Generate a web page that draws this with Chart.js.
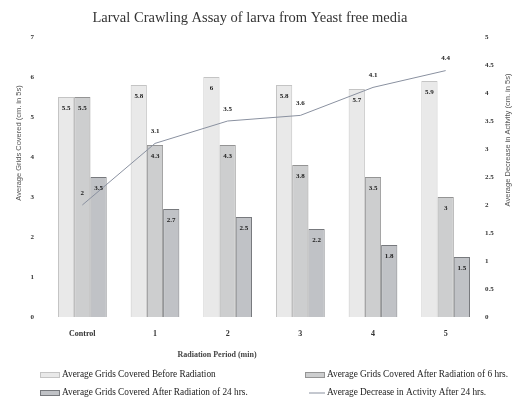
<!DOCTYPE html>
<html>
<head>
<meta charset="utf-8">
<script src="https://cdn.jsdelivr.net/npm/chart.js@4"></script>
<style>
  html, body { margin: 0; padding: 0; background: #fff; }
  #wrap { width: 521px; height: 401px; }
</style>
</head>
<body>
<div id="wrap"><canvas id="chart"></canvas></div>
<script>
const periods = ["Control", "1", "2", "3", "4", "5"];
const beforeRadiation = [5.5, 5.8, 6, 5.8, 5.7, 5.9];
const after6hrs = [5.5, 4.3, 4.3, 3.8, 3.5, 3];
const after24hrs = [3.5, 2.7, 2.5, 2.2, 1.8, 1.5];
const decreaseActivity = [2, 3.1, 3.5, 3.6, 4.1, 4.4];

const serif = '"Liberation Serif", "Times New Roman", serif';
const sans = '"Liberation Sans", Arial, sans-serif';

// value labels on bars and line
const valueLabels = {
  id: "valueLabels",
  afterDatasetsDraw(chart) {
    const ctx = chart.ctx;
    ctx.save();
    ctx.font = "bold 7px " + serif;
    ctx.fillStyle = "#1a1a1a";
    ctx.textAlign = "center";
    ctx.textBaseline = "middle";
    chart.data.datasets.forEach((ds, i) => {
      chart.getDatasetMeta(i).data.forEach((el, j) => {
        const y = ds.type === "line" ? el.y - 12 : el.y + 11;
        ctx.fillText(String(ds.data[j]), el.x, y);
      });
    });
    ctx.restore();
  }
};

// title, axis titles and legend drawn by hand to sit where the reference puts them
const extras = {
  id: "extras",
  afterDraw(chart) {
    const ctx = chart.ctx;
    ctx.save();
    ctx.textAlign = "center";
    ctx.textBaseline = "middle";

    ctx.fillStyle = "#333";
    ctx.font = "14.5px " + serif;
    ctx.fillText("Larval Crawling Assay of larva from Yeast free media", 250, 18);

    ctx.fillStyle = "#444";
    ctx.font = "bold 8px " + serif;
    ctx.fillText("Radiation Period (min)", 217, 355);

    ctx.fillStyle = "#555";
    ctx.font = "7.5px " + sans;
    ctx.save();
    ctx.translate(19, 143);
    ctx.rotate(-Math.PI / 2);
    ctx.fillText("Average Grids Covered (cm. in 5s)", 0, 0);
    ctx.restore();
    ctx.save();
    ctx.translate(508, 140);
    ctx.rotate(-Math.PI / 2);
    ctx.fillText("Average Decrease in Activity (cm. in 5s)", 0, 0);
    ctx.restore();

    // legend
    const cols = [40, 305];
    const rows = [375, 393];
    ctx.font = "9.3px " + serif;
    ctx.textAlign = "left";
    chart.data.datasets.forEach((ds, i) => {
      const x = cols[i % 2];
      const y = rows[Math.floor(i / 2)];
      if (ds.type === "line") {
        ctx.strokeStyle = ds.borderColor;
        ctx.lineWidth = 1;
        ctx.beginPath();
        ctx.moveTo(x + 4, y);
        ctx.lineTo(x + 20, y);
        ctx.stroke();
      } else {
        ctx.fillStyle = ds.backgroundColor;
        ctx.fillRect(x, y - 3, 20, 6);
        ctx.strokeStyle = ds.borderColor;
        ctx.lineWidth = 1;
        ctx.strokeRect(x + 0.5, y - 2.5, 19, 5);
      }
      ctx.fillStyle = "#222";
      ctx.fillText(ds.label, x + 22, y);
    });
    ctx.restore();
  }
};

const ctx = document.getElementById("chart").getContext("2d");
new Chart(ctx, {
  type: "bar",
  data: {
    labels: periods,
    datasets: [
      { label: "Average Grids Covered Before Radiation", data: beforeRadiation,
        backgroundColor: "#e9e9e9", borderColor: "#c4c4c4", borderWidth: 1, yAxisID: "y", order: 2 },
      { label: "Average Grids Covered After Radiation of 6 hrs.", data: after6hrs,
        backgroundColor: "#cdcecf", borderColor: "#949494", borderWidth: 1, yAxisID: "y", order: 2 },
      { label: "Average Grids Covered After Radiation of 24 hrs.", data: after24hrs,
        backgroundColor: "#c0c2c6", borderColor: "#77797d", borderWidth: 1, yAxisID: "y", order: 2 },
      { type: "line", label: "Average Decrease in Activity After 24 hrs.", data: decreaseActivity,
        borderColor: "#8a91a0", borderWidth: 1, pointRadius: 0, fill: false, tension: 0,
        yAxisID: "y1", order: 1 }
    ]
  },
  options: {
    responsive: true,
    maintainAspectRatio: false,
    animation: false,
    layout: { padding: { left: 0, right: 0, top: 37, bottom: 0 } },
    datasets: { bar: { categoryPercentage: 0.67, barPercentage: 1 } },
    scales: {
      x: {
        grid: { display: false, drawTicks: false },
        border: { display: false },
        ticks: { color: "#333", padding: 12, font: { family: serif, size: 8, weight: "bold" } },
        afterFit: (s) => { s.height = 84; }
      },
      y: {
        position: "left",
        min: 0, max: 7,
        grid: { display: false, drawTicks: false },
        border: { display: false },
        ticks: { stepSize: 1, color: "#333", padding: 12, font: { family: serif, size: 7, weight: "bold" } },
        afterFit: (s) => { s.width = 46; }
      },
      y1: {
        position: "right",
        min: 0, max: 5,
        grid: { display: false, drawTicks: false },
        border: { display: false },
        ticks: {
          stepSize: 0.5, color: "#333", padding: 3,
          font: { family: serif, size: 7, weight: "bold" },
          callback: (v) => String(v)
        },
        afterFit: (s) => { s.width = 39; }
      }
    },
    plugins: {
      legend: { display: false },
      tooltip: { enabled: false },
      title: { display: false }
    }
  },
  plugins: [valueLabels, extras]
});
</script>
</body>
</html>
